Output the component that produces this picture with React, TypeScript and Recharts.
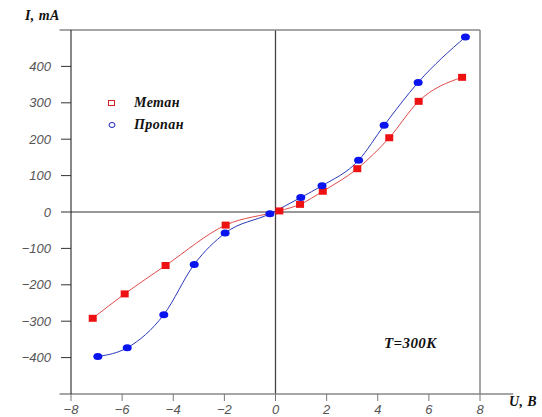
import React from "react"
import {
  LineChart,
  Line,
  XAxis,
  YAxis,
  ReferenceLine,
} from "recharts"

// Метан (red squares)
const metanU = [-7.15, -5.9, -4.3, -1.95, 0.15, 0.96, 1.85, 3.2, 4.45, 5.6, 7.3]
const metanI = [-292, -225, -147, -36, 3, 21, 57, 119, 204, 304, 370]

// Пропан (blue circles)
const propanU = [-6.95, -5.8, -4.37, -3.18, -1.97, -0.22, 0.99, 1.82, 3.25, 4.25, 5.58, 7.43]
const propanI = [-397, -373, -282, -144, -58, -5, 40, 72, 142, 238, 356, 481]

const xTicks = [-8, -6, -4, -2, 0, 2, 4, 6, 8]
const yTicks = [-400, -300, -200, -100, 0, 100, 200, 300, 400]

const metan = metanU.map((u, i) => ({ u, i: metanI[i] }))
const propan = propanU.map((u, i) => ({ u, i: propanI[i] }))

const minus = (v: number) => (v < 0 ? "\u2212" + Math.abs(v) : String(v))

const tickFont = { fontFamily: "Liberation Sans, Arial, sans-serif", fontStyle: "italic", fontSize: 13, fill: "#555" }
const serifBold: React.CSSProperties = {
  position: "absolute",
  fontFamily: "Liberation Serif, Times New Roman, serif",
  fontStyle: "italic",
  fontWeight: "bold",
  fontSize: 14,
  color: "#111",
  whiteSpace: "nowrap",
  lineHeight: "16px",
  letterSpacing: 0.4,
}

const RedSquare = (p: any) => <rect x={p.cx - 4} y={p.cy - 3.5} width={8} height={7} fill="#ee1111" />
const BlueDot = (p: any) => <ellipse cx={p.cx} cy={p.cy} rx={4.5} ry={3.5} fill="#0a14ee" />

export default function App() {
  return (
    <div style={{ position: "absolute", left: 0, top: 0, width: 542, height: 417, background: "#fff" }}>
      <LineChart width={542} height={417} margin={{ top: 30, right: 62, left: 0, bottom: 0 }}>
        <XAxis
          type="number"
          dataKey="u"
          domain={[-8, 8]}
          ticks={xTicks}
          tickFormatter={minus}
          axisLine={false}
          tickLine={{ stroke: "#777" }}
          tickSize={7}
          tickMargin={4}
          height={23}
          tick={tickFont}
          allowDataOverflow
        />
        <YAxis
          type="number"
          dataKey="i"
          domain={[-500, 500]}
          ticks={yTicks}
          tickFormatter={minus}
          axisLine={{ stroke: "#111" }}
          tickLine={{ stroke: "#333" }}
          tickSize={10}
          tickMargin={10}
          width={71}
          tick={tickFont}
          allowDataOverflow
        />
        <ReferenceLine x={0} stroke="#444" strokeWidth={1.3} />
        <ReferenceLine y={0} stroke="#333" strokeWidth={1.2} />
        <ReferenceLine x={8} stroke="#888" strokeWidth={1.5} />
        <ReferenceLine
          segment={[{ x: -8.45, y: 500 }, { x: 8, y: 500 }]}
          stroke="#888"
          strokeWidth={1.5}
          ifOverflow="visible"
        />
        <ReferenceLine
          segment={[{ x: -8.45, y: -500 }, { x: 9.3, y: -500 }]}
          stroke="#888"
          strokeWidth={1.5}
          ifOverflow="visible"
        />
        <Line
          data={metan}
          dataKey="i"
          type="monotone"
          stroke="#e04a4a"
          strokeWidth={1}
          dot={<RedSquare />}
          activeDot={false}
          isAnimationActive={false}
        />
        <Line
          data={propan}
          dataKey="i"
          type="monotone"
          stroke="#2a38b8"
          strokeWidth={1}
          dot={<BlueDot />}
          activeDot={false}
          isAnimationActive={false}
        />
      </LineChart>

      <div style={{ ...serifBold, left: 25, top: 8 }}>I, mA</div>
      <div style={{ ...serifBold, left: 509, top: 394 }}>U, B</div>
      <div style={{ ...serifBold, left: 384, top: 335, fontSize: 15 }}>T=300K</div>

      <div style={{ position: "absolute", left: 106, top: 92 }}>
        <div style={{ display: "flex", alignItems: "center", height: 22 }}>
          <svg width={12} height={10} style={{ marginRight: 16 }}>
            <rect x={2.5} y={2.5} width={6} height={5} fill="none" stroke="#d02020" strokeWidth={1} />
          </svg>
          <span style={{ ...serifBold, position: "static" }}>Метан</span>
        </div>
        <div style={{ display: "flex", alignItems: "center", height: 22 }}>
          <svg width={12} height={10} style={{ marginRight: 16 }}>
            <ellipse cx={6} cy={5} rx={3} ry={2.5} fill="none" stroke="#2020c0" strokeWidth={1} />
          </svg>
          <span style={{ ...serifBold, position: "static" }}>Пропан</span>
        </div>
      </div>
    </div>
  )
}
